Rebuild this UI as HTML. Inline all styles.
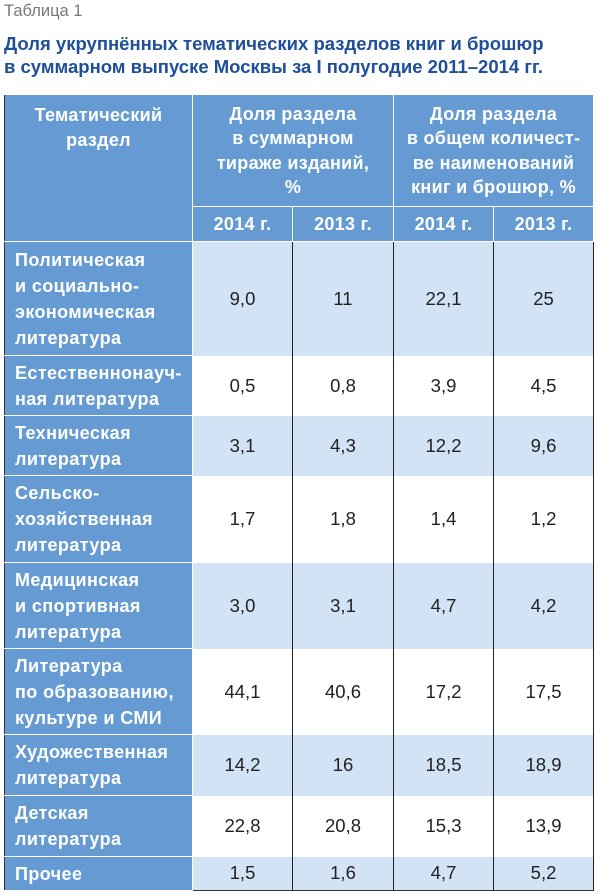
<!DOCTYPE html>
<html><head><meta charset="utf-8"><style>
body{margin:0;width:600px;height:894px;background:#fff;font-family:"Liberation Sans",sans-serif;position:relative;overflow:hidden}
.cap{position:absolute;left:4px;top:2px;font-size:16.5px;color:#777}
.t{position:absolute;left:4px;top:32px;font-size:18.5px;font-weight:bold;color:#1f4e9a;line-height:23px;letter-spacing:0px}
table{position:absolute;left:4px;top:94px;border-collapse:collapse;width:589px;table-layout:fixed}
td,th{padding:0;text-align:center;vertical-align:middle}
th{background:#659bd2;color:#fff;font-size:18px;font-weight:bold;line-height:24.5px;border:1px solid #fff;letter-spacing:0.3px}
td{font-size:18.5px;color:#222;border-left:1px solid #222;border-right:1px solid #222}
td.h{background:#659bd2;color:#fff;font-weight:bold;text-align:left;padding-left:10px;font-size:18px;letter-spacing:0.4px;line-height:26px;border:1px solid #fff;border-left:1px solid #333;white-space:nowrap}
tr.b td:not(.h){background:#d2e3f5}
table{border:1.5px solid #333}
</style></head><body>
<div class="cap">Таблица 1</div>
<div class="t">Доля укрупнённых тематических разделов книг и брошюр<br>в суммарном выпуске Москвы за I полугодие 2011–2014 гг.</div>
<table>
<colgroup><col style="width:188px"><col style="width:100px"><col style="width:101px"><col style="width:100px"><col style="width:100px"></colgroup>
<tr style="height:112px"><th rowspan="2" style="vertical-align:top;padding-top:8px;border-left:1px solid #333">Тематический<br>раздел</th><th colspan="2">Доля раздела<br>в суммарном<br>тираже изданий,<br>%</th><th colspan="2">Доля раздела<br>в общем количест-<br>ве наименований<br>книг и брошюр, %</th></tr>
<tr style="height:35px"><th>2014 г.</th><th>2013 г.</th><th>2014 г.</th><th>2013 г.</th></tr>
<tr class="b" style="height:114px"><td class="h">Политическая<br>и социально-<br>экономическая<br>литература</td><td>9,0</td><td>11</td><td>22,1</td><td>25</td></tr>
<tr style="height:60px"><td class="h">Естественнонауч-<br>ная литература</td><td>0,5</td><td>0,8</td><td>3,9</td><td>4,5</td></tr>
<tr class="b" style="height:60px"><td class="h">Техническая<br>литература</td><td>3,1</td><td>4,3</td><td>12,2</td><td>9,6</td></tr>
<tr style="height:87px"><td class="h">Сельско-<br>хозяйственная<br>литература</td><td>1,7</td><td>1,8</td><td>1,4</td><td>1,2</td></tr>
<tr class="b" style="height:86px"><td class="h">Медицинская<br>и спортивная<br>литература</td><td>3,0</td><td>3,1</td><td>4,7</td><td>4,2</td></tr>
<tr style="height:86px"><td class="h">Литература<br>по образованию,<br>культуре и СМИ</td><td>44,1</td><td>40,6</td><td>17,2</td><td>17,5</td></tr>
<tr class="b" style="height:61px"><td class="h">Художественная<br>литература</td><td>14,2</td><td>16</td><td>18,5</td><td>18,9</td></tr>
<tr style="height:61px"><td class="h">Детская<br>литература</td><td>22,8</td><td>20,8</td><td>15,3</td><td>13,9</td></tr>
<tr class="b" style="height:34px"><td class="h">Прочее</td><td>1,5</td><td>1,6</td><td>4,7</td><td>5,2</td></tr>
</table>
</body></html>
